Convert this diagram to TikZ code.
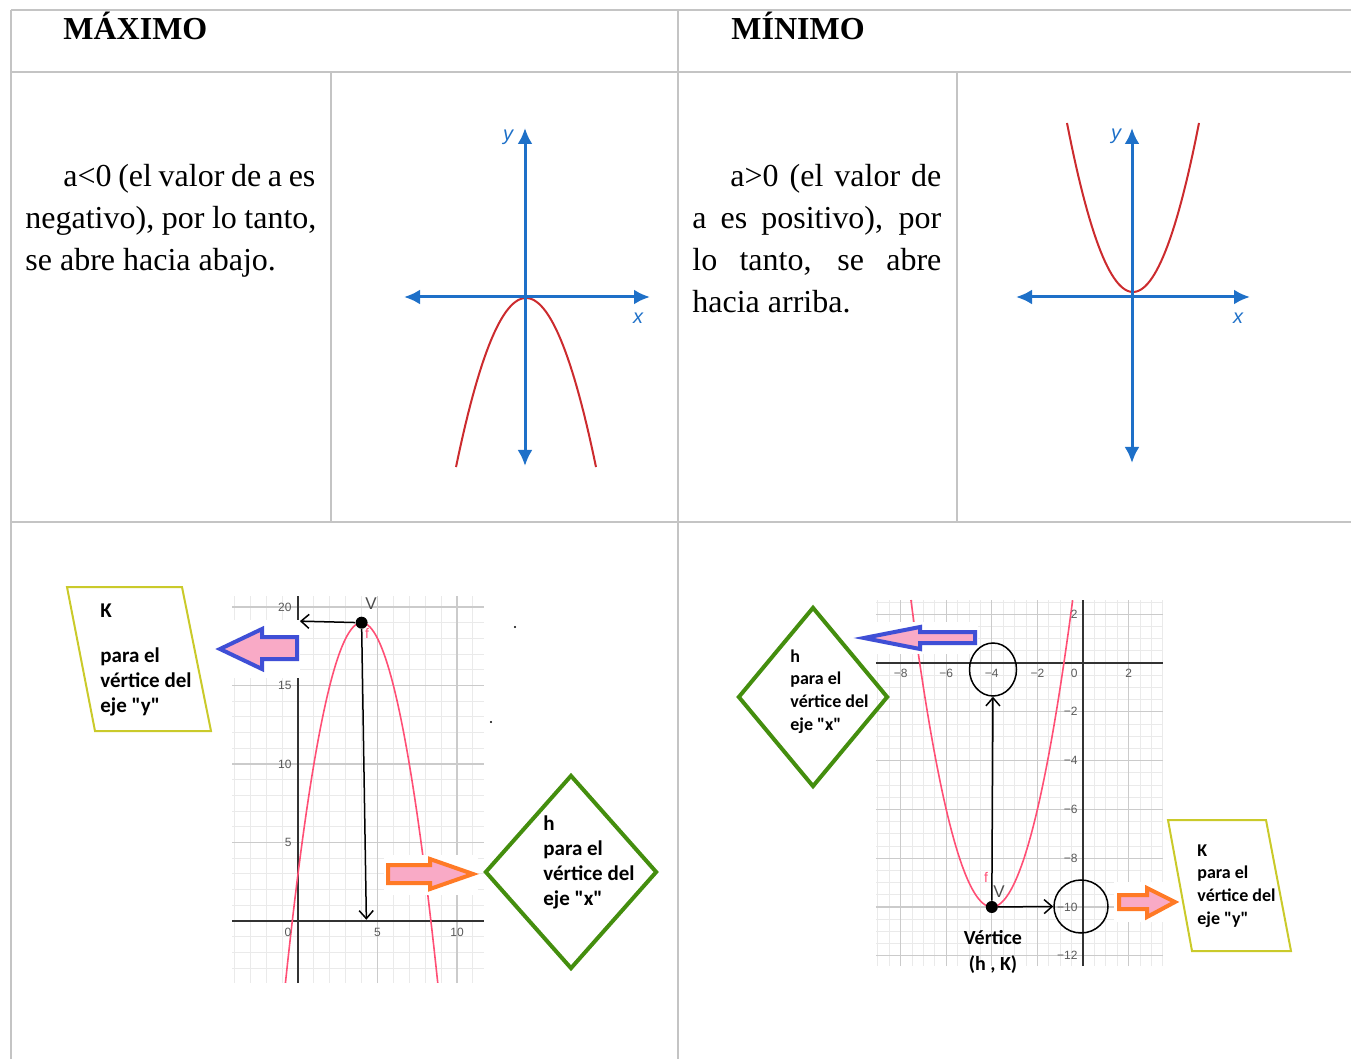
\documentclass[tikz,border=0pt]{standalone}
\usepackage{fontspec}
\setmainfont{Liberation Serif}
\newfontfamily\calloutfont{Carlito}
\newfontfamily\tickfont{Liberation Sans}
\usetikzlibrary{arrows.meta, positioning, calc, shapes.geometric}
\definecolor{TableGrey}{HTML}{C4C4C4}
\definecolor{AxisBlue}{HTML}{1E70C8}
\definecolor{CurveRed}{HTML}{CC2B2E}
\definecolor{GraphPink}{HTML}{FF4F75}
\definecolor{GridMajor}{HTML}{CBCBCB}
\definecolor{GridMinor}{HTML}{EAEAEA}
\definecolor{TickGrey}{HTML}{5A5A5A}
\definecolor{BoxYellow}{HTML}{CACA2A}
\definecolor{DiamondGreen}{HTML}{448E0E}
\definecolor{PointerPink}{HTML}{F9AAC6}
\definecolor{PointerBlue}{HTML}{3F4FD6}
\definecolor{PointerOrange}{HTML}{FF7A26}
\begin{document}
\begin{tikzpicture}[x=0.5pt,y=-0.5pt,tableline/.style={draw=TableGrey,line width=1pt},headtext/.style={anchor=base west,inner sep=0pt,font=\fontsize{16pt}{21pt}\selectfont\bfseries},bodytext/.style={anchor=base west,inner sep=0pt,align=left,font=\fontsize{16pt}{21pt}\selectfont},blueaxis/.style={draw=AxisBlue,line width=1.5pt,{Latex[length=8pt,width=7.5pt]}-{Latex[length=8pt,width=7.5pt]}},redcurve/.style={draw=CurveRed,line width=1pt},axislabel/.style={inner sep=0pt,text=AxisBlue,font=\tickfont\itshape\fontsize{10pt}{12pt}\selectfont},minorgrid/.style={draw=GridMinor,line width=0.5pt},majorgrid/.style={draw=GridMajor,line width=0.6pt},ggaxis/.style={draw=black!80,line width=0.6pt},ggcurve/.style={draw=GraphPink,line width=0.8pt},ticklabel/.style={inner sep=0pt,text=TickGrey,font=\tickfont\fontsize{6pt}{7pt}\selectfont},vlabel/.style={inner sep=0pt,text=black!70,font=\tickfont\fontsize{8.5pt}{10pt}\selectfont},flabel/.style={inner sep=0pt,text=GraphPink,font=\tickfont\fontsize{7pt}{8pt}\selectfont},vertexdot/.style={circle,fill=black,inner sep=0pt,minimum size=6pt},straydot/.style={circle,fill=black,inner sep=0pt,minimum size=1.2pt},blackarrow/.style={draw=black,line width=0.75pt,-{Straight Barb[length=4pt,width=7pt]}},ringmark/.style={ellipse,draw=black,line width=0.75pt,inner sep=0pt},whitepatch/.style={fill=white},bluepointer/.style={draw=PointerBlue,fill=PointerPink,line width=2pt,line join=miter},orangepointer/.style={draw=PointerOrange,fill=PointerPink,line width=2pt,line join=miter},yellowbox/.style={draw=BoxYellow,line width=1pt},greendiamond/.style={diamond,draw=DiamondGreen,line width=2pt,inner sep=0pt},callouttext/.style={anchor=base west,inner sep=0pt,align=left,font=\calloutfont\bfseries\fontsize{10.5pt}{12.5pt}\selectfont},smallcallout/.style={callouttext,font=\calloutfont\bfseries\fontsize{9pt}{11.3pt}\selectfont},vertexcaption/.style={anchor=base,inner sep=0pt,align=center,font=\calloutfont\bfseries\fontsize{10pt}{13pt}\selectfont}]
\useasboundingbox (0,0) rectangle (1351,1059);
\draw[tableline] (11,10) -- (1351,10);
\draw[tableline] (11,72) -- (1351,72);
\draw[tableline] (11,522) -- (1351,522);
\draw[tableline] (11,10) -- (11,1059);
\draw[tableline] (678,10) -- (678,1059);
\draw[tableline] (331,72) -- (331,522);
\draw[tableline] (957,72) -- (957,522);
\node[headtext] (maxhead) at (63,40) {MÁXIMO};
\node[headtext] (minhead) at (731,40) {MÍNIMO};
\node[bodytext] (maxtext) at (25,271) {\hspace*{19pt}\makebox[126pt][s]{a<0 (el valor de a es}\\\makebox[145.5pt][s]{negativo), por lo tanto,}\\se abre hacia abajo.};
\node[bodytext] (mintext) at (692,313) {\hspace*{19pt}\makebox[105.5pt][s]{a>0 (el valor de}\\\makebox[124.5pt][s]{a es positivo), por}\\\makebox[124.5pt][s]{lo tanto, se abre}\\hacia arriba.};
\draw[redcurve] plot[domain=-70:70,samples=60] ({526+\x},{298+0.0345*\x*\x});
\draw[blueaxis] (404,297) -- (650,297);
\draw[blueaxis] (525,466) -- (525,128);
\node[axislabel] (ymax) at (508,137) {y};
\node[axislabel] (xmax) at (638,318) {x};
\draw[redcurve] plot[domain=-66:66,samples=60] ({1133+\x},{292-0.0388*\x*\x});
\draw[blueaxis] (1016,297) -- (1250,297);
\draw[blueaxis] (1132,463) -- (1132,128);
\node[axislabel] (ymin) at (1116,136) {y};
\node[axislabel] (xmin) at (1238,318) {x};
\begin{scope}[shift={(298,921)},xscale=15.9,yscale=-15.7]
\foreach \gx in {-4,...,11} \draw[minorgrid] (\gx,-3.95) -- (\gx,20.7);
\foreach \gy in {-3,...,20} \draw[minorgrid] (-4.15,\gy) -- (11.7,\gy);
\foreach \gx in {5,10} \draw[majorgrid] (\gx,-3.95) -- (\gx,20.7);
\foreach \gy in {5,10,15,20} \draw[majorgrid] (-4.15,\gy) -- (11.7,\gy);
\draw[ggaxis] (-4.15,0) -- (11.7,0);
\draw[ggaxis] (0,-3.95) -- (0,20.7);
\draw[ggcurve] plot[domain=-0.79:8.79,samples=80] (\x,{19-(\x-4)^2});
\foreach \t in {5,10,15,20} \node[ticklabel,anchor=east] (lyt\t) at (-0.38,\t) {\t};
\node[ticklabel] (lorigin) at (-0.63,-0.7) {0};
\foreach \t in {5,10} \node[ticklabel] (lxt\t) at (\t,-0.7) {\t};
\end{scope}
\begin{scope}[shift={(1083,663)},xscale=22.8,yscale=-24.4]
\foreach \gx in {-9,-8.5,...,3.5} \draw[minorgrid] (\gx,-12.42) -- (\gx,2.58);
\foreach \gy in {-12,-11.5,...,2.5} \draw[minorgrid] (-9.08,\gy) -- (3.51,\gy);
\foreach \gx in {-8,-6,-4,-2,2} \draw[majorgrid] (\gx,-12.42) -- (\gx,2.58);
\foreach \gy in {-12,-10,...,-2,2} \draw[majorgrid] (-9.08,\gy) -- (3.51,\gy);
\draw[ggaxis] (-9.08,0) -- (3.51,0);
\draw[ggaxis] (0,-12.42) -- (0,2.58);
\draw[ggcurve] plot[domain=-7.547:-0.453,samples=80] (\x,{(\x+4)^2-10});
\foreach \t in {2,4,6,8} \node[ticklabel] (rxt\t) at (-\t,-0.41) {−\t};
\node[ticklabel] (rorigin) at (-0.39,-0.41) {0};
\node[ticklabel] (rxp2) at (2,-0.41) {2};
\foreach \t in {2,4,...,12} \node[ticklabel,anchor=east] (ryt\t) at (-0.22,-\t) {−\t};
\node[ticklabel,anchor=east] (ryp2) at (-0.22,2) {2};
\end{scope}
\fill[whitepatch] (215,620) rectangle (300,678);
\fill[whitepatch] (384,855) rectangle (478,895);
\fill[whitepatch] (858,622) rectangle (978,654);
\fill[whitepatch] (1114,882) rectangle (1163,922);
\draw[bluepointer] (297,637) -- (262,637) -- (262,629) -- (220,649) -- (262,669) -- (262,659) -- (297,659) -- cycle;
\draw[orangepointer] (388,865) -- (430,865) -- (430,859) -- (473,874) -- (430,889) -- (430,883) -- (388,883) -- cycle;
\draw[bluepointer] (975,632) -- (920,632) -- (920,627) -- (864,638) -- (920,649) -- (920,643) -- (975,643) -- cycle;
\draw[orangepointer] (1119,895) -- (1147,895) -- (1147,888) -- (1175,902) -- (1147,917) -- (1147,909) -- (1119,909) -- cycle;
\begin{scope}[shift={(298,921)},xscale=15.9,yscale=-15.7]
\node[vertexdot] (vmax) at (4,19) {};
\coordinate (kaxis) at (0.12,19.1);
\coordinate (haxis) at (4.3,0.08);
\node[vlabel] (vmaxlabel) at (4.6,20.2) {V};
\node[flabel] (fmaxlabel) at (4.34,18.34) {f};
\end{scope}
\draw[blackarrow] (vmax) -- (kaxis);
\draw[blackarrow] (vmax) -- (haxis);
\begin{scope}[shift={(1083,663)},xscale=22.8,yscale=-24.4]
\node[vertexdot] (vmin) at (-4,-10) {};
\node[vlabel] (vminlabel) at (-3.68,-9.39) {V};
\node[flabel] (fminlabel) at (-4.25,-8.77) {f};
\end{scope}
\node[ringmark,minimum width=23.5pt,minimum height=26.5pt] (hcircle) at (993,669.5) {};
\node[ringmark,minimum width=27pt,minimum height=26.5pt] (kcircle) at (1081,906.5) {};
\draw[blackarrow] (vmin) -- (hcircle.south);
\draw[blackarrow] (vmin) -- (kcircle.west);
\node[vertexcaption] (vcaption) at (993,970) {Vértice\\(h , K)};
\draw[yellowbox] (67,587) -- (182,587) -- (211,731) -- (95,731) -- cycle;
\node[callouttext] (kleft) at (100,712) {K\\[10pt]para el\\vértice del\\eje "y"};
\node[greendiamond,minimum width=86pt,minimum height=97pt] (hleft) at (571,872) {};
\node[callouttext] (hlefttext) at (543,905) {h\\para el\\vértice del\\eje "x"};
\node[greendiamond,minimum width=75pt,minimum height=90pt] (hright) at (813,697) {};
\node[smallcallout] (hrighttext) at (790,730) {h\\para el\\vértice del\\eje "x"};
\draw[yellowbox] (1168,820) -- (1266,820) -- (1291,951) -- (1192,951) -- cycle;
\node[smallcallout] (kright) at (1197,924) {K\\para el\\vértice del\\eje "y"};
\node[straydot] (dotA) at (515,627) {};
\node[straydot] (dotB) at (491,722) {};
\end{tikzpicture}
\end{document}
